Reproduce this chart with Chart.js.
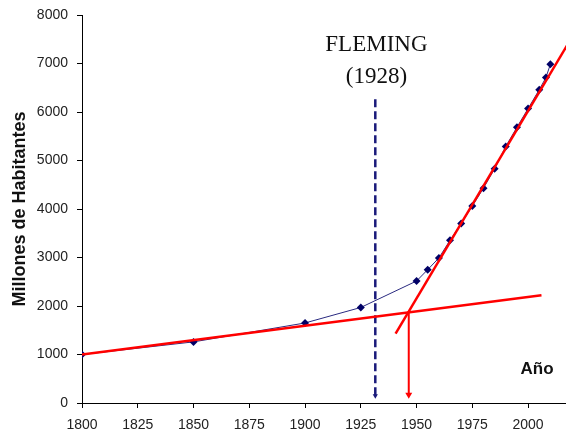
<!DOCTYPE html>
<html>
<head>
<meta charset="utf-8">
<script src="https://cdn.jsdelivr.net/npm/chart.js@4.4.0/dist/chart.umd.min.js"></script>
<style>
  body { margin: 0; background: #fff; }
  #wrap { width: 566px; height: 434px; }
</style>
</head>
<body>
<div id="wrap"><canvas id="chart" width="566" height="434"></canvas></div>
<script>

// ---------------------------------------------------------------------------
// Data
// ---------------------------------------------------------------------------

var years = [1800, 1850, 1900, 1925, 1950, 1955, 1960, 1965, 1970, 1975, 1980, 1985, 1990, 1995, 2000, 2005, 2008, 2010];
var population = [1000, 1260, 1650, 1970, 2515, 2750, 2990, 3355, 3700, 4060, 4430, 4830, 5290, 5685, 6070, 6460, 6710, 6985];

// red trend lines (start / end)
var slowTrendYears = [1800, 2006];
var slowTrendValues = [1000, 2220];
var fastTrendYears = [1940.6, 2020];
var fastTrendValues = [1431, 7570];

// red arrow from the crossing down to the axis
var crossYears = [1946.5, 1946.5];
var crossValues = [1870, 170];

// Fleming marker
var flemingYears = [1931.5, 1931.5];
var flemingValues = [6262, 150];

var yTicks = [0, 1000, 2000, 3000, 4000, 5000, 6000, 7000, 8000];
var xTickLabels = [1800, 1825, 1850, 1875, 1900, 1925, 1950, 1975, 2000];

function pairs(xs, ys) {
  return xs.map(function(x, i) { return { x: x, y: ys[i] }; });
}

// ---------------------------------------------------------------------------
// Annotation text drawn at data coordinates
// ---------------------------------------------------------------------------

var labelsPlugin = {
  id: 'labels',
  afterDatasetsDraw: function(chart) {
    var ctx = chart.ctx;
    var x = chart.scales.x, y = chart.scales.y;
    ctx.save();
    ctx.fillStyle = '#111';
    ctx.textAlign = 'center';
    ctx.textBaseline = 'middle';
    ctx.font = '23px "Liberation Serif", "Times New Roman", serif';
    ctx.fillText('FLEMING', x.getPixelForValue(1932), y.getPixelForValue(7375));
    ctx.fillText('(1928)', x.getPixelForValue(1932), y.getPixelForValue(6722));
    ctx.font = 'bold 17px "Liberation Sans", Arial, sans-serif';
    ctx.fillText('Año', x.getPixelForValue(2004), y.getPixelForValue(695));
    ctx.restore();
  }
};

var ctx = document.getElementById('chart').getContext('2d');

var chart = new Chart(ctx, {
  type: 'line',
  data: {
    datasets: [
      {
        label: 'Fleming',
        data: pairs(flemingYears, flemingValues),
        borderColor: '#1a1a7a',
        backgroundColor: '#1a1a7a',
        borderWidth: 2.5,
        borderDash: [8, 4],
        pointStyle: 'triangle',
        pointRotation: 180,
        pointRadius: [0, 3],
        pointBorderWidth: 0,
        order: 3
      },
      {
        label: 'Población',
        data: pairs(years, population),
        borderColor: '#2a2a80',
        backgroundColor: '#000066',
        borderWidth: 1,
        pointStyle: 'rectRot',
        pointRadius: 4,
        pointBorderWidth: 0,
        order: 2
      },
      {
        label: 'Tendencia 1',
        data: pairs(slowTrendYears, slowTrendValues),
        borderColor: '#ff0000',
        borderWidth: 2.5,
        pointRadius: 0,
        order: 1
      },
      {
        label: 'Tendencia 2',
        data: pairs(fastTrendYears, fastTrendValues),
        borderColor: '#ff0000',
        borderWidth: 2.5,
        pointRadius: 0,
        order: 1
      },
      {
        label: 'Cruce',
        data: pairs(crossYears, crossValues),
        borderColor: '#ff0000',
        backgroundColor: '#ff0000',
        borderWidth: 2,
        pointStyle: 'triangle',
        pointRotation: 180,
        pointRadius: [0, 4],
        pointBorderWidth: 0,
        order: 1
      }
    ]
  },
  options: {
    responsive: false,
    animation: false,
    layout: { autoPadding: false, padding: { top: 15, right: 0, left: 0, bottom: 0 } },
    plugins: {
      legend: { display: false },
      tooltip: { enabled: false }
    },
    scales: {
      x: {
        type: 'linear',
        min: 1800,
        max: 2017,
        afterFit: function(scale) {
          scale.height = 31;
          scale.paddingLeft = 0;
          scale.paddingRight = 0;
        },
        afterBuildTicks: function(scale) {
          scale.ticks = xTickLabels.map(function(v) { return { value: v }; });
        },
        border: { color: '#000', width: 1 },
        grid: { display: true, drawOnChartArea: false, drawTicks: true, tickLength: 5, color: '#000' },
        ticks: {
          color: '#222',
          padding: 9,
          maxRotation: 0,
          callback: function(v) { return String(v); },
          font: { family: '"Liberation Sans", Arial, sans-serif', size: 14 }
        }
      },
      y: {
        min: 0,
        max: 8000,
        afterFit: function(scale) {
          scale.width = 82;
          scale.paddingTop = 0;
          scale.paddingBottom = 0;
        },
        afterBuildTicks: function(scale) {
          scale.ticks = yTicks.map(function(v) { return { value: v }; });
        },
        border: { color: '#000', width: 1 },
        grid: { display: true, drawOnChartArea: false, drawTicks: true, tickLength: 5, color: '#000' },
        ticks: {
          color: '#222',
          padding: 9,
          callback: function(v) { return String(v); },
          font: { family: '"Liberation Sans", Arial, sans-serif', size: 14 }
        },
        title: {
          display: true,
          text: 'Millones de Habitantes',
          color: '#111',
          padding: { top: 9, bottom: 0 },
          font: { family: '"Liberation Sans", Arial, sans-serif', size: 18, weight: 'bold' }
        }
      }
    }
  },
  plugins: [labelsPlugin]
});

</script>
</body>
</html>
